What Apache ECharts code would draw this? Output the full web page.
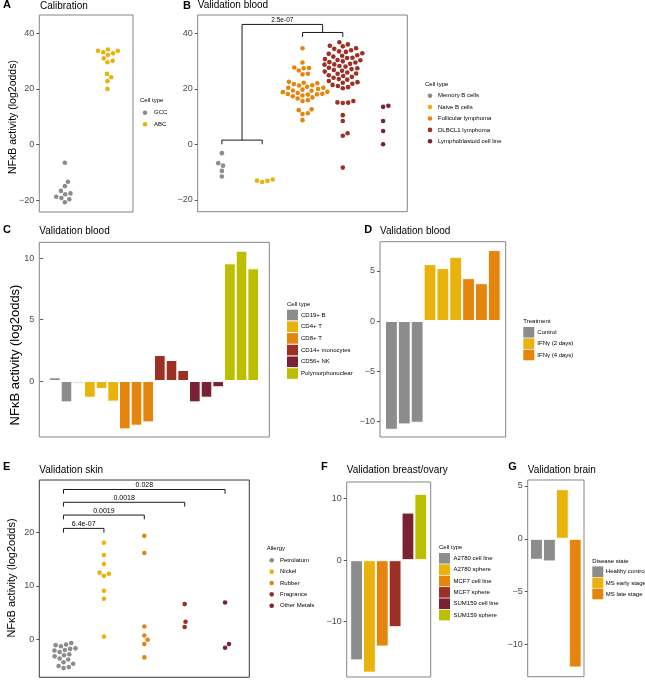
<!DOCTYPE html>
<html><head><meta charset="utf-8">
<script src="https://cdn.jsdelivr.net/npm/echarts@6/dist/echarts.min.js"></script>
<style>html,body{margin:0;padding:0;background:#fff}#c{width:645px;height:681px}</style>
</head><body><div id="c"></div>
<script>
// ================= DATA =================
const calibGroups = ['GCC', 'ABC'];
const calibGCC = [-6.6, -13.4, -15.0, -16.7, -18.8, -19.3, -20.8, -19.7, -17.9, -17.6];
const calibABC = [33.7, 33.2, 31.0, 29.6, 32.8, 30.1, 32.2, 33.7, 34.2, 25.4, 24.2, 22.8, 20.0];

const bloodGroups = ['Memory B cells', 'Naive B cells', 'Follicular lymphoma', 'DLBCL1 lymphoma', 'Lymphoblastoid cell line'];
const bloodMemB = [-3.2, -7.7, -6.8, -9.6, -11.6];
const bloodNaiveB = [-13.1, -13.6, -13.2, -12.7];
const bloodFollicular = [34.6, 29.5, 27.7, 27.5, 27.4, 26.6, 25.4, 25.2, 22.5, 22.2, 22.0, 21.7, 21.3, 21.2,
  20.7, 20.4, 20.4, 19.9, 19.7, 19.4, 19.3, 18.9, 18.8, 18.5, 18.2, 18.1, 18.0, 17.9, 17.6, 17.3, 16.9, 16.5,
  15.9, 15.6, 12.6, 12.3, 11.2, 10.9, 8.7];
const bloodDLBCL = [36.8, 36.0, 35.5, 35.3, 34.6, 34.4, 33.9, 33.5, 33.3, 32.8, 32.6, 32.1, 31.9, 31.6, 31.2,
  31.1, 30.7, 30.4, 30.3, 29.9, 29.6, 29.5, 29.0, 28.8, 28.7, 28.2, 28.0, 27.6, 27.4, 27.1, 26.8, 26.5, 26.2,
  25.9, 25.5, 25.4, 24.9, 24.6, 24.3, 24.0, 23.5, 23.3, 22.8, 22.4, 22.2, 21.8, 21.4, 21.0, 20.6, 20.2,
  15.6, 15.1, 15.0, 14.9, 10.5, 8.4, 4.0, 3.1, -8.4];
const bloodLCL = [13.5, 13.9, 8.4, 4.8, 0.0];
const bloodPval = '2.5e-07';

const cellCats = ['CD19+ B', 'CD4+ T', 'CD8+ T', 'CD14+ monocytes', 'CD56+ NK', 'Polymorphonuclear'];
const cellCD19B = [0.3, -1.74, -0.19];
const cellCD4T = [-1.36, -0.65, -1.68];
const cellCD8T = [-3.94, -3.64, -3.37];
const cellCD14Mono = [2.12, 1.71, 0.9];
const cellCD56NK = [-1.74, -1.36, -0.51];
const cellPMN = [9.59, 10.62, 9.18];

const treatCats = ['Control', 'IFNγ (2 days)', 'IFNγ (4 days)'];
const treatControl = [-10.83, -10.3, -10.13];
const treatIFN2 = [5.67, 5.27, 6.4];
const treatIFN4 = [4.27, 3.77, 7.07];

const skinGroups = ['Petrolatum', 'Nickel', 'Rubber', 'Fragrance', 'Other Metals'];
const skinPetrolatum = [-0.7, -1.0, -1.1, -1.3, -1.7, -1.8, -2.0, -2.1, -2.4, -2.8, -3.0, -3.2, -3.6, -3.8, -4.3, -4.6, -5.0, -5.2, -5.4];
const skinNickel = [18.1, 15.8, 14.1, 12.5, 11.9, 12.3, 9.1, 7.6, 0.5];
const skinRubber = [19.4, 16.2, 2.4, 0.7, -0.1, -0.9, -3.4];
const skinFragrance = [6.6, 3.3, 2.3];
const skinOtherMetals = [6.9, -0.9, -1.6];
const skinPvals = ['6.4e-07', '0.0019', '0.0018', '0.028'];

const bovCats = ['A2780 cell line', 'A2780 sphere', 'MCF7 cell line', 'MCF7 sphere', 'SUM159 cell line', 'SUM159 sphere'];
const bovVals = [-16.3, -18.3, -14.05, -10.9, 7.75, 10.8];

const brainCats = ['Healthy control', 'MS early stage', 'MS late stage'];
const brainHealthy = [-1.99, -2.15];
const brainEarly = [4.7];
const brainLate = [-12.2];

// ================= STYLE / LAYOUT =================
const FONT = 'Liberation Sans, Arial, Helvetica, sans-serif';
const PAL = ['#8C8C8C', '#EAB20C', '#E6850E', '#9C3024', '#7A2232', '#BCBF00'];
const P = {
  A: {l: 39.3, t: 15, w: 93.7, h: 197, ymin: -24.3, ymax: 46.6, xmin: 0.4, xmax: 2.6, ticks: [-20, 0, 20, 40]},
  B: {l: 197.7, t: 15, w: 209.6, h: 196.7, ymin: -24.3, ymax: 46.6, xmin: 0.4, xmax: 5.6, ticks: [-20, 0, 20, 40]},
  C: {l: 39.3, t: 242.3, w: 230, h: 194.7, ymin: -4.56, ymax: 11.3, xmin: -0.33, xmax: 19.38, ticks: [0, 5, 10]},
  D: {l: 380, t: 241.7, w: 125.7, h: 195.3, ymin: -11.55, ymax: 7.9, xmin: 0.11, xmax: 9.89, ticks: [-10, -5, 0, 5]},
  E: {l: 39.3, t: 480, w: 210, h: 197.3, ymin: -7.13, ymax: 29.88, xmin: 0.4, xmax: 5.6, ticks: [0, 10, 20], border: '#3a3a3a'},
  F: {l: 346.7, t: 482, w: 84, h: 195, ymin: -19.0, ymax: 12.72, xmin: 0.23, xmax: 6.77, ticks: [-10, 0, 10]},
  G: {l: 527.7, t: 480, w: 56.3, h: 196.7, ymin: -13.07, ymax: 5.57, xmin: 0.32, xmax: 4.68, ticks: [-10, -5, 0, 5]}
};
const ORDER = ['A', 'B', 'C', 'D', 'E', 'F', 'G'];
const DOT = 4.6, SWARM_D = 5.4;

const grids = [], xAxes = [], yAxes = [], series = [], legendG = [];
ORDER.forEach((k, i) => {
  const p = P[k];
  grids.push({left: p.l, top: p.t, width: p.w, height: p.h, show: true, borderColor: p.border || '#858585',
    borderWidth: 1, backgroundColor: 'transparent', outerBoundsMode: 'none'});
  xAxes.push({type: 'value', gridIndex: i, min: p.xmin, max: p.xmax, show: false, splitLine: {show: false}});
  yAxes.push({type: 'value', gridIndex: i, min: p.ymin, max: p.ymax, splitLine: {show: false},
    axisLine: {show: false},
    axisTick: {show: true, length: 3, lineStyle: {color: '#555', width: 1}, customValues: p.ticks},
    axisLabel: {customValues: p.ticks, fontSize: 9, color: '#4d4d4d', margin: 5, fontFamily: FONT,
      formatter: v => String(v).replace('-', '\u2212')}});
});
const gi = k => ORDER.indexOf(k);

// beeswarm layout ("swarm" method): offsets computed in pixel space
function swarm(values, center, k) {
  const p = P[k];
  const pyu = p.h / (p.ymax - p.ymin), pxu = p.w / (p.xmax - p.xmin);
  const idx = values.map((v, i) => i).sort((a, b) => values[a] - values[b]);
  const placed = [], out = new Array(values.length);
  for (const i of idx) {
    const py = values[i] * pyu;
    const cands = [0];
    for (const q of placed) {
      const dy = py - q.py;
      if (Math.abs(dy) < SWARM_D) {
        const dx = Math.sqrt(SWARM_D * SWARM_D - dy * dy);
        cands.push(q.px + dx, q.px - dx);
      }
    }
    cands.sort((a, b) => Math.abs(a) - Math.abs(b) || b - a);
    let chosen = 0;
    for (const c of cands) {
      let ok = true;
      for (const q of placed) {
        const dx = c - q.px, dy = py - q.py;
        if (dx * dx + dy * dy < SWARM_D * SWARM_D - 1e-6) { ok = false; break; }
      }
      if (ok) { chosen = c; break; }
    }
    placed.push({px: chosen, py});
    out[i] = [center + chosen / pxu, values[i]];
  }
  return out;
}

function addSwarm(k, names, groups, colors) {
  groups.forEach((vals, j) => {
    series.push({type: 'scatter', name: names[j], xAxisIndex: gi(k), yAxisIndex: gi(k),
      data: swarm(vals, j + 1, k), symbol: 'circle', symbolSize: DOT,
      itemStyle: {color: colors[j], opacity: 1}, z: 3});
  });
}
function addBars(k, names, groups, colors) {
  const p = P[k];
  const bw = p.w / (p.xmax - p.xmin);
  let pos = 1;
  groups.forEach((vals, j) => {
    const data = vals.map(v => [pos++, v]);
    series.push({type: 'bar', name: names[j], xAxisIndex: gi(k), yAxisIndex: gi(k), data,
      barWidth: bw, barGap: '-100%', itemStyle: {color: colors[j], borderColor: '#fff', borderWidth: 1}});
  });
}
function addBracket(k, pts) {
  series.push({type: 'line', name: '_br' + series.length, xAxisIndex: gi(k), yAxisIndex: gi(k), data: pts,
    symbol: 'none', silent: true, lineStyle: {color: '#000', width: 0.9}, z: 4});
}

function txt(x, y, text, size, opt) {
  return Object.assign({type: 'text', x, y, silent: true,
    style: Object.assign({text, fontFamily: FONT, fontSize: size, fill: '#000',
      textAlign: 'left', textVerticalAlign: 'middle', align: 'left', verticalAlign: 'middle'}, (opt && opt.style) || {})},
    (opt && opt.el) || {});
}
// legend: key column x (circle centre or square left), text x, first row y, row spacing
function addLegend(title, names, colors, isDot, kx, tx, y0, sp) {
  legendG.push(txt(isDot ? kx - 5 : kx, y0 - sp + (isDot ? -0.3 : 0.6), title, 6));
  names.forEach((n, j) => {
    const y = y0 + j * sp;
    if (isDot) legendG.push({type: 'circle', silent: true, shape: {cx: kx, cy: y, r: 2.3}, style: {fill: colors[j]}});
    else legendG.push({type: 'rect', silent: true, shape: {x: kx, y: y - 5.3, width: 11, height: 10.6}, style: {fill: colors[j]}});
    legendG.push(txt(tx, y, n, 6));
  });
}

// A
addSwarm('A', calibGroups, [calibGCC, calibABC], [PAL[0], PAL[1]]);
addLegend('Cell type', calibGroups, [PAL[0], PAL[1]], true, 145, 154, 112.7, 11.6);
// B
addSwarm('B', bloodGroups, [bloodMemB, bloodNaiveB, bloodFollicular, bloodDLBCL, bloodLCL], PAL.slice(0, 5));
addLegend('Cell type', bloodGroups, PAL.slice(0, 5), true, 430, 438, 95.7, 11.4);
const bBr = {low: 1.5, lowTick: 0, high: 40.3, highTick: 38.7, top: 43.2};
addBracket('B', [[1, bBr.lowTick], [1, bBr.low], [2, bBr.low], [2, bBr.lowTick]]);
addBracket('B', [[3, bBr.highTick], [3, bBr.high], [4, bBr.high], [4, bBr.highTick]]);
addBracket('B', [[1.5, bBr.low], [1.5, bBr.top], [3.5, bBr.top], [3.5, bBr.high]]);
// C
addBars('C', cellCats, [cellCD19B, cellCD4T, cellCD8T, cellCD14Mono, cellCD56NK, cellPMN], PAL);
addLegend('Cell type', cellCats, PAL, false, 287, 301, 315, 11.7);
// D
addBars('D', treatCats, [treatControl, treatIFN2, treatIFN4], PAL.slice(0, 3));
addLegend('Treatment', treatCats, PAL.slice(0, 3), false, 523.3, 537.3, 332.3, 11.35);
// E
addSwarm('E', skinGroups, [skinPetrolatum, skinNickel, skinRubber, skinFragrance, skinOtherMetals], PAL.slice(0, 5));
addLegend('Allergy', skinGroups, PAL.slice(0, 5), true, 271.7, 280, 560.3, 11.35);
const eBrY = [20.8, 23.3, 25.7, 28.1], eDrop = 0.8;
eBrY.forEach((y, j) => addBracket('E', [[1, y - eDrop], [1, y], [j + 2, y], [j + 2, y - eDrop]]));
// F
addBars('F', bovCats, bovVals.map(v => [v]), PAL);
addLegend('Cell type', bovCats, PAL, false, 439, 453.5, 558.3, 11.35);
// G
addBars('G', brainCats, [brainHealthy, brainEarly, brainLate], PAL.slice(0, 3));
addLegend('Disease state', brainCats, PAL.slice(0, 3), false, 592.3, 605.8, 571.7, 11.15);

const bold = {style: {fontWeight: 'bold'}};
const ctr = {style: {textAlign: 'center', align: 'center'}};
const rot = {style: {textAlign: 'center', align: 'center'}, el: {rotation: Math.PI / 2}};
const graphics = [
  txt(3, 5, 'A', 11, bold), txt(40, 6, 'Calibration', 10),
  txt(183, 5.5, 'B', 11, bold), txt(197.7, 5.7, 'Validation blood', 10),
  txt(3, 230, 'C', 11, bold), txt(39.3, 231.7, 'Validation blood', 10),
  txt(364.3, 230, 'D', 11, bold), txt(380, 231, 'Validation blood', 10),
  txt(3, 466.7, 'E', 11, bold), txt(39.3, 470.7, 'Validation skin', 10),
  txt(321, 466.7, 'F', 11, bold), txt(346.7, 470.7, 'Validation breast/ovary', 10),
  txt(508.3, 466.7, 'G', 11, bold), txt(527.7, 470.7, 'Validation brain', 10),
  txt(13.3, 117, 'NFκB activity (log2odds)', 10.5, rot),
  txt(15.8, 355, 'NFκB activity (log2odds)', 13, rot),
  txt(11.5, 578, 'NFκB activity (log2odds)', 11, rot)
].concat(legendG);

const chart = echarts.init(document.getElementById('c'), null, {renderer: 'canvas', devicePixelRatio: 1});
chart.setOption({animation: false, backgroundColor: '#fff', grid: grids, xAxis: xAxes, yAxis: yAxes,
  series, textStyle: {fontFamily: FONT}});

// bracket labels placed through the chart's own scales
const lab = [];
const pB = chart.convertToPixel({gridIndex: gi('B')}, [2.5, bBr.top]);
lab.push(txt(pB[0], pB[1] - 4, bloodPval, 6.5, ctr));
eBrY.forEach((y, j) => {
  const p = chart.convertToPixel({gridIndex: gi('E')}, [(1 + j + 2) / 2, y]);
  lab.push(txt(p[0], p[1] - 4.3, skinPvals[j], 7, ctr));
});
chart.setOption({graphic: {elements: graphics.concat(lab)}});
</script>
</body></html>
